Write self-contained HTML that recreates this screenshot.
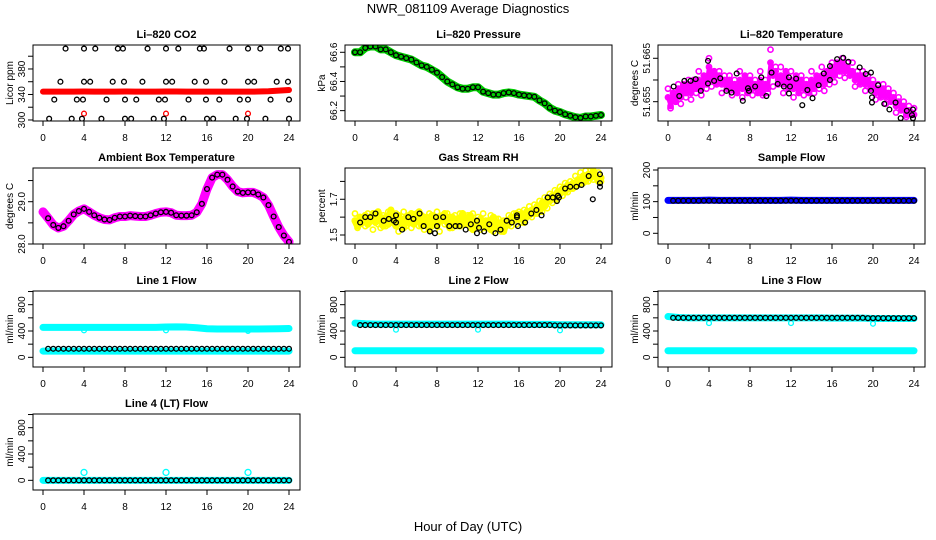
<!DOCTYPE html>
<html><head><meta charset="utf-8"><title>NWR_081109 Average Diagnostics</title>
<style>
html,body{margin:0;padding:0;background:#fff;}
svg{display:block;font-family:"Liberation Sans",Arial,sans-serif;}
</style></head>
<body>
<svg id="chart" width="936" height="540" viewBox="0 0 936 540" xmlns="http://www.w3.org/2000/svg">
<rect x="0" y="0" width="936" height="540" fill="#fff"/>
<text x="468" y="13" text-anchor="middle" font-size="13">NWR_081109  Average Diagnostics</text>
<text x="468" y="531" text-anchor="middle" font-size="13">Hour of Day (UTC)</text>
</svg>
<script>
// ---------- data ----------
const xTicks = [0,4,8,12,16,20,24];
// CO2
const co2RedHours = [0,1,2,3,4,5,6,7,8,9,10,11,12,13,14,15,16,17,18,19,20,21,22,23,24];
const co2Red = [344.5,344.5,344.5,344.5,344.6,344.5,344.5,344.5,344.6,344.5,344.5,344.5,344.6,344.6,344.5,344.5,344.5,344.5,344.4,344.4,344.4,344.6,345,346,347];
const co2RedOutHours = [4,12,20];
const co2RedOut = [310,310,310];
const co2BlackHours = [2.2,4.0,5.1,7.3,7.8,10.2,12.0,13.2,15.3,15.7,18.2,20.0,21.2,23.2,23.9,
 1.7,4.0,4.6,6.8,7.9,9.7,12.0,12.6,14.8,15.9,17.7,20.0,20.6,22.8,23.9,
 1.1,3.3,3.9,6.2,8.0,9.1,11.3,11.9,14.2,15.9,17.2,19.2,20.0,22.2,24.0,
 0.6,2.8,3.8,5.7,8.0,8.6,10.8,11.8,13.7,16.0,16.6,18.8,19.9,21.7,24.0];
const co2Black = [412,412,412,412,412,412,412,412,412,412,412,412,412,412,412,
 360,360,360,360,360,360,360,360,360,360,360,360,360,360,360,
 332,332,332,332,332,332,332,332,332,332,332,332,332,332,332,
 302,302,302,302,302,302,302,302,302,302,302,302,302,302,302];
// half-hour grid series (0..24)
const halfHours = [0,0.5,1,1.5,2,2.5,3,3.5,4,4.5,5,5.5,6,6.5,7,7.5,8,8.5,9,9.5,10,10.5,11,11.5,12,12.5,13,13.5,14,14.5,15,15.5,16,16.5,17,17.5,18,18.5,19,19.5,20,20.5,21,21.5,22,22.5,23,23.5,24];
const pressure = [66.60,66.60,66.63,66.64,66.64,66.62,66.62,66.60,66.58,66.57,66.56,66.55,66.53,66.51,66.50,66.48,66.46,66.43,66.40,66.38,66.36,66.35,66.35,66.36,66.36,66.33,66.32,66.31,66.31,66.32,66.325,66.32,66.31,66.305,66.30,66.295,66.27,66.25,66.22,66.20,66.19,66.175,66.165,66.155,66.15,66.16,66.16,66.165,66.17];
const ambient = [28.76,28.61,28.45,28.38,28.42,28.55,28.70,28.78,28.83,28.76,28.68,28.62,28.58,28.57,28.62,28.65,28.65,28.67,28.66,28.65,28.65,28.68,28.72,28.75,28.76,28.74,28.68,28.67,28.67,28.68,28.75,28.95,29.30,29.57,29.64,29.64,29.52,29.36,29.24,29.21,29.22,29.22,29.17,29.10,28.92,28.65,28.40,28.20,28.05];
// quarter-hour dense series
const quarterHours = [0,0.25,0.5,0.75,1,1.25,1.5,1.75,2,2.25,2.5,2.75,3,3.25,3.5,3.75,4,4.25,4.5,4.75,5,5.25,5.5,5.75,6,6.25,6.5,6.75,7,7.25,7.5,7.75,8,8.25,8.5,8.75,9,9.25,9.5,9.75,10,10.25,10.5,10.75,11,11.25,11.5,11.75,12,12.25,12.5,12.75,13,13.25,13.5,13.75,14,14.25,14.5,14.75,15,15.25,15.5,15.75,16,16.25,16.5,16.75,17,17.25,17.5,17.75,18,18.25,18.5,18.75,19,19.25,19.5,19.75,20,20.25,20.5,20.75,21,21.25,21.5,21.75,22,22.25,22.5,22.75,23,23.25,23.5,23.75,24];
const tempPink = [51.656,51.654,51.657,51.655,51.658,51.656,51.659,51.657,51.659,51.657,51.660,51.658,51.660,51.658,51.661,51.659,51.663,51.660,51.662,51.659,51.661,51.659,51.660,51.658,51.660,51.658,51.659,51.657,51.660,51.658,51.661,51.657,51.660,51.658,51.659,51.657,51.660,51.657,51.659,51.658,51.664,51.661,51.662,51.659,51.661,51.659,51.662,51.658,51.660,51.658,51.661,51.657,51.660,51.658,51.659,51.657,51.660,51.658,51.661,51.659,51.661,51.659,51.662,51.660,51.663,51.661,51.664,51.662,51.664,51.662,51.663,51.661,51.662,51.660,51.661,51.659,51.661,51.659,51.660,51.658,51.659,51.657,51.658,51.656,51.658,51.656,51.657,51.655,51.656,51.654,51.655,51.653,51.654,51.652,51.653,51.652,51.652];
const tempPink2 = [51.658,51.6535,51.657,51.655,51.659,51.6545,51.658,51.656,51.660,51.6555,51.659,51.657,51.662,51.6565,51.660,51.658,51.665,51.6585,51.662,51.660,51.662,51.657,51.661,51.659,51.661,51.6565,51.660,51.658,51.662,51.656,51.660,51.658,51.661,51.6565,51.660,51.658,51.662,51.6565,51.660,51.657,51.667,51.6585,51.663,51.660,51.663,51.657,51.661,51.659,51.662,51.656,51.660,51.658,51.661,51.6565,51.660,51.658,51.662,51.657,51.660,51.658,51.663,51.6575,51.661,51.659,51.664,51.6595,51.663,51.661,51.665,51.6605,51.664,51.662,51.664,51.6585,51.662,51.660,51.662,51.6575,51.661,51.659,51.660,51.6555,51.659,51.657,51.659,51.6545,51.658,51.656,51.657,51.6525,51.656,51.654,51.655,51.6515,51.654,51.6525,51.6535];
const tempBlackHours = [0.55,1.1,1.6,2.2,2.7,3.2,3.9,3.9,4.5,5.1,5.7,6.2,6.7,7.3,7.8,7.9,8.5,9.1,9.6,10.1,10.7,11.3,11.8,11.8,11.9,12.5,13.1,13.6,14.1,14.7,15.2,15.8,15.8,16.5,17.1,17.6,18.7,19.3,19.8,19.8,19.9,19.9,20.5,21.1,21.6,22.2,22.7,23.3,23.8,23.9,23.9];
const tempBlack = [51.6585,51.6563,51.6598,51.6598,51.6602,51.6575,51.6644,51.6592,51.6598,51.6604,51.6575,51.6571,51.6615,51.6552,51.6581,51.6575,51.6585,51.6606,51.6563,51.6617,51.6591,51.6585,51.6606,51.6569,51.6585,51.6603,51.6542,51.6577,51.6558,51.6588,51.6615,51.6600,51.6632,51.6648,51.6651,51.6642,51.6629,51.6614,51.6617,51.6575,51.6560,51.6548,51.6588,51.6545,51.6532,51.6548,51.6512,51.6529,51.6519,51.6532,51.6512];
const rhYellow = [1.58,1.55,1.60,1.57,1.61,1.56,1.58,1.62,1.57,1.63,1.59,1.55,1.60,1.56,1.64,1.58,1.55,1.61,1.58,1.54,1.60,1.57,1.62,1.56,1.59,1.63,1.55,1.60,1.57,1.53,1.61,1.58,1.55,1.60,1.58,1.62,1.57,1.54,1.60,1.56,1.59,1.55,1.62,1.57,1.56,1.61,1.53,1.58,1.55,1.59,1.57,1.54,1.58,1.53,1.60,1.56,1.54,1.57,1.52,1.58,1.56,1.60,1.58,1.62,1.59,1.62,1.57,1.63,1.61,1.64,1.62,1.66,1.63,1.68,1.66,1.70,1.69,1.72,1.70,1.74,1.73,1.76,1.74,1.78,1.76,1.79,1.77,1.81,1.79,1.83,1.80,1.84,1.82,1.86,1.83,1.80,1.82];
const rhYellow2 = [1.62,1.54,1.56,1.60,1.55,1.62,1.60,1.53,1.62,1.56,1.54,1.61,1.55,1.63,1.57,1.60,1.62,1.52,1.56,1.63,1.55,1.61,1.54,1.60,1.62,1.55,1.61,1.53,1.60,1.62,1.55,1.60,1.63,1.52,1.61,1.56,1.62,1.60,1.54,1.61,1.55,1.62,1.56,1.60,1.61,1.54,1.62,1.57,1.60,1.53,1.62,1.58,1.55,1.61,1.52,1.59,1.59,1.52,1.58,1.55,1.61,1.55,1.62,1.56,1.63,1.57,1.64,1.60,1.66,1.60,1.67,1.62,1.69,1.63,1.71,1.65,1.73,1.68,1.75,1.70,1.77,1.72,1.79,1.74,1.80,1.76,1.83,1.78,1.85,1.79,1.86,1.80,1.86,1.81,1.84,1.85,1.80];
const rhBlackHours = [0.5,1,1.5,2,2.8,3.3,3.8,4,4,4.6,5.2,5.7,6.3,6.7,7.3,7.8,7.9,8,8.6,9.2,9.8,10.2,10.8,11.3,11.9,11.9,12.1,12.6,13.1,13.7,14.2,14.8,15.3,15.8,15.8,15.9,16.6,17.2,17.7,18.2,18.8,19.3,19.7,19.8,19.9,20.5,21,21.6,22.1,22.8,23.2,23.9,23.9,23.9];
const rhBlack = [1.57,1.6,1.6,1.62,1.58,1.59,1.58,1.61,1.57,1.53,1.6,1.59,1.62,1.55,1.52,1.51,1.6,1.55,1.6,1.55,1.55,1.55,1.53,1.56,1.51,1.58,1.54,1.52,1.56,1.51,1.53,1.58,1.57,1.6,1.61,1.55,1.57,1.62,1.64,1.61,1.71,1.71,1.69,1.72,1.71,1.76,1.77,1.77,1.78,1.83,1.7,1.84,1.79,1.77];
// hourly flow series
const hours = [0,1,2,3,4,5,6,7,8,9,10,11,12,13,14,15,16,17,18,19,20,21,22,23,24];
const sampleBlue = [104,104,104,104,105,104,104,104,104,104,104,104,105,104,104,104,104,104,104,104,104,104,104,104,104];
const sampleBlack = [103,103,103,103,103,103,103,103,103,103,103,103,103,103,103,103,103,103,103,103,103,103,103,103,103];
const line1Upper = [455,455,455,455,455,455,455,455,455,455,455,455,460,462,460,450,435,430,430,430,430,430,432,435,438];
const line1Lower = [95,95,95,95,95,95,95,95,95,95,95,95,95,95,95,95,95,95,95,95,95,95,95,95,95];
const line1Black = [130,130,130,130,130,130,130,130,130,130,130,130,130,130,130,130,130,130,130,130,130,130,130,130,130];
const line2Upper = [520,510,505,505,505,505,505,505,505,505,505,505,505,505,505,505,500,500,500,500,495,495,495,495,495];
const line2Lower = [100,100,100,100,100,100,100,100,100,100,100,100,100,100,100,100,100,100,100,100,100,100,100,100,100];
const line2Black = [490,490,490,490,490,490,490,490,490,490,490,490,490,490,490,490,490,490,490,490,485,485,485,485,485];
const line3Upper = [620,605,600,600,600,600,600,600,600,600,600,600,600,600,600,600,595,595,595,595,590,590,590,590,590];
const line3Lower = [100,100,100,100,100,100,100,100,100,100,100,100,100,100,100,100,100,100,100,100,100,100,100,100,100];
const line3Black = [600,600,600,600,600,600,600,600,600,600,600,600,600,600,600,600,600,600,600,600,595,595,595,595,595];
const line4Cyan = [0,0,0,0,0,0,0,0,0,0,0,0,0,0,0,0,0,0,0,0,0,0,0,0,0];
const line4Black = [0,0,0,0,0,0,0,0,0,0,0,0,0,0,0,0,0,0,0,0,0,0,0,0,0];
const dipHours = [4,12,20];
const line1Dips = [410,410,400];
const line2Dips = [420,420,410];
const line3Dips = [520,520,510];
const line4Dips = [120,120,120];

// ---------- drawing ----------
const NS = 'http://www.w3.org/2000/svg';
const svg = document.getElementById('chart');
const COLS = [33,345,658], ROWS = [45,168,291,414], W = 267, H = 76;

function el(tag, parent, name) {
  const e = document.createElementNS(NS, tag);
  
  
  parent.appendChild(e);
  return e;
}
function makePanel(col, row, slug, title, ylab, ymin, ymax, yticks, ylabels) {
  const g = document.createElementNS(NS, 'g');
  
  
  svg.appendChild(g);
  const L = COLS[col], T = ROWS[row];
  const P = {g, L, T,
    x: h => L + 10 + h * 10.25,
    y: v => T + H - (v - ymin) / (ymax - ymin) * H};
  const t = el('text', g, slug + '-title');
  t.setAttribute('x', L + W / 2); t.setAttribute('y', T - 7);
  t.setAttribute('text-anchor', 'middle'); t.setAttribute('font-size', '11'); t.setAttribute('font-weight', 'bold');
  t.textContent = title;
  const xa = el('line', g, slug + '-x-axis-line');
  xa.setAttribute('x1', P.x(0)); xa.setAttribute('x2', P.x(24));
  xa.setAttribute('y1', T + H); xa.setAttribute('y2', T + H); xa.setAttribute('stroke', '#000');
  xTicks.forEach(v => {
    const tk = el('line', g, slug + '-x-tick');
    tk.setAttribute('x1', P.x(v)); tk.setAttribute('x2', P.x(v));
    tk.setAttribute('y1', T + H); tk.setAttribute('y2', T + H + 5); tk.setAttribute('stroke', '#000');
    const tl = el('text', g, slug + '-x-tick-label');
    tl.setAttribute('x', P.x(v)); tl.setAttribute('y', T + H + 20);
    tl.setAttribute('text-anchor', 'middle'); tl.setAttribute('font-size', '10');
    tl.textContent = v;
  });
  const ya = el('line', g, slug + '-y-axis-line');
  ya.setAttribute('x1', L); ya.setAttribute('x2', L);
  ya.setAttribute('y1', P.y(yticks[0])); ya.setAttribute('y2', P.y(yticks[yticks.length - 1])); ya.setAttribute('stroke', '#000');
  yticks.forEach(v => {
    const tk = el('line', g, slug + '-y-tick');
    tk.setAttribute('x1', L - 5); tk.setAttribute('x2', L);
    tk.setAttribute('y1', P.y(v)); tk.setAttribute('y2', P.y(v)); tk.setAttribute('stroke', '#000');
  });
  ylabels.forEach(s => {
    const tl = el('text', g, slug + '-y-tick-label');
    const yy = P.y(parseFloat(s));
    tl.setAttribute('x', L - 8); tl.setAttribute('y', yy);
    tl.setAttribute('text-anchor', 'middle'); tl.setAttribute('font-size', '10');
    tl.setAttribute('transform', 'rotate(-90 ' + (L - 8) + ' ' + yy + ')');
    tl.textContent = s;
  });
  const yt = el('text', g, slug + '-y-axis-title');
  const cy = T + H / 2;
  yt.setAttribute('x', L - 20); yt.setAttribute('y', cy);
  yt.setAttribute('text-anchor', 'middle'); yt.setAttribute('font-size', '10');
  yt.setAttribute('transform', 'rotate(-90 ' + (L - 20) + ' ' + cy + ')');
  yt.textContent = ylab;
  P.clip = 'clip-' + slug;
  const cp = el('clipPath', g, slug + '-clip');
  cp.setAttribute('id', P.clip);
  const cr = el('rect', cp, slug + '-clip-rect');
  cr.setAttribute('x', L); cr.setAttribute('y', T); cr.setAttribute('width', W); cr.setAttribute('height', H);
  P.plot = el('g', g, slug + '-plot-area');
  P.plot.setAttribute('clip-path', 'url(#' + P.clip + ')');
  P.finish = () => {
    const b = el('rect', g, slug + '-plot-frame');
    b.setAttribute('x', L); b.setAttribute('y', T); b.setAttribute('width', W); b.setAttribute('height', H);
    b.setAttribute('fill', 'none'); b.setAttribute('stroke', '#000');
  };
  return P;
}
function band(P, xs, ys, color, width, name) {
  const p = el('polyline', P.plot, name);
  p.setAttribute('points', xs.map((h, i) => P.x(h) + ',' + P.y(ys[i])).join(' '));
  p.setAttribute('fill', 'none'); p.setAttribute('stroke', color);
  p.setAttribute('stroke-width', width); p.setAttribute('stroke-linejoin', 'round'); p.setAttribute('stroke-linecap', 'round');
}
function points(P, xs, ys, color, name, r, sw) {
  xs.forEach((h, i) => {
    const c = el('circle', P.plot, name);
    c.setAttribute('cx', P.x(h)); c.setAttribute('cy', P.y(ys[i]));
    c.setAttribute('r', r || 2.4);
    c.setAttribute('fill', 'none'); c.setAttribute('stroke', color); c.setAttribute('stroke-width', sw || '1.3');
  });
}
function chain(P, xs, ys, name) {
  const hx = [], hy = [];
  for (let i = 0; i < xs.length - 1; i++) {
    hx.push(xs[i] + 0.5); hy.push(ys[i + 1]);
    hx.push(xs[i + 1]); hy.push(ys[i + 1]);
  }
  points(P, hx, hy, '#000', name);
}

// Panel 1: CO2
let P = makePanel(0, 0, 'co2', 'Li–820 CO2', 'Licor ppm', 298.4, 417.6, [300,320,340,360,380,400], ['300','340','380']);
band(P, co2RedHours, co2Red, '#ff0000', 6, 'co2-red-series');
points(P, co2RedOutHours, co2RedOut, '#ff0000', 'co2-red-outlier');
points(P, co2BlackHours, co2Black, '#000', 'co2-black-point');
P.finish();

// Panel 2: Pressure
P = makePanel(1, 0, 'pressure', 'Li–820 Pressure', 'kPa', 66.129, 66.65, [66.2,66.3,66.4,66.5,66.6], ['66.2','66.4','66.6']);
band(P, halfHours, pressure, '#00cc00', 8, 'pressure-green-series');
points(P, halfHours, pressure, '#000', 'pressure-black-point');
P.finish();

// Panel 3: Temperature
P = makePanel(2, 0, 'temperature', 'Li–820 Temperature', 'degrees C', 51.65055, 51.66806, [51.655,51.66,51.665], ['51.655','51.665']);
band(P, quarterHours, tempPink, '#ff00ff', 4, 'temperature-pink-band');
points(P, quarterHours, tempPink, '#ff00ff', 'temperature-pink-point', 2.6, 1.6);
points(P, quarterHours, tempPink2, '#ff00ff', 'temperature-pink-point', 2.6, 1.6);
points(P, tempBlackHours, tempBlack, '#000', 'temperature-black-point');
P.finish();

// Panel 4: Ambient
P = makePanel(0, 1, 'ambient', 'Ambient Box Temperature', 'degrees C', 28.0, 29.797, [28.0,28.5,29.0,29.5], ['28.0','29.0']);
band(P, halfHours, ambient, '#ff00ff', 9, 'ambient-magenta-series');
points(P, halfHours.slice(1), ambient.slice(1), '#000', 'ambient-black-point');
P.finish();

// Panel 5: RH
P = makePanel(1, 1, 'rh', 'Gas Stream RH', 'percent', 1.4496, 1.875, [1.5,1.6,1.7,1.8], ['1.5','1.7']);
band(P, quarterHours, rhYellow, '#ffff00', 7, 'rh-yellow-band');
points(P, quarterHours, rhYellow, '#ffff00', 'rh-yellow-point', 2.6, 1.6);
points(P, quarterHours, rhYellow2, '#ffff00', 'rh-yellow-point', 2.6, 1.6);
points(P, rhBlackHours, rhBlack, '#000', 'rh-black-point');
P.finish();

// Panel 6: Sample flow
P = makePanel(2, 1, 'sample-flow', 'Sample Flow', 'ml/min', -33.8, 206.3, [0,50,100,150,200], ['0','100','200']);
band(P, hours, sampleBlue, '#0000ff', 7, 'sample-flow-blue-series');
chain(P, hours, sampleBlack, 'sample-flow-black-point');
P.finish();

// Panels 7-10: line flows
const fmin = -147, fmax = 1008, fticks = [0,200,400,600,800,1000], flabs = ['0','400','800'];
P = makePanel(0, 2, 'line1-flow', 'Line 1 Flow', 'ml/min', fmin, fmax, fticks, flabs);
band(P, hours, line1Upper, '#00ffff', 7, 'line1-cyan-upper');
band(P, hours, line1Lower, '#00ffff', 7, 'line1-cyan-lower');
points(P, dipHours, line1Dips, '#00ffff', 'line1-cyan-dip');
chain(P, hours, line1Black, 'line1-black-point');
P.finish();

P = makePanel(1, 2, 'line2-flow', 'Line 2 Flow', 'ml/min', fmin, fmax, fticks, flabs);
band(P, hours, line2Upper, '#00ffff', 7, 'line2-cyan-upper');
band(P, hours, line2Lower, '#00ffff', 7, 'line2-cyan-lower');
points(P, dipHours, line2Dips, '#00ffff', 'line2-cyan-dip');
chain(P, hours, line2Black, 'line2-black-point');
P.finish();

P = makePanel(2, 2, 'line3-flow', 'Line 3 Flow', 'ml/min', fmin, fmax, fticks, flabs);
band(P, hours, line3Upper, '#00ffff', 7, 'line3-cyan-upper');
band(P, hours, line3Lower, '#00ffff', 7, 'line3-cyan-lower');
points(P, dipHours, line3Dips, '#00ffff', 'line3-cyan-dip');
chain(P, hours, line3Black, 'line3-black-point');
P.finish();

P = makePanel(0, 3, 'line4-flow', 'Line 4 (LT) Flow', 'ml/min', fmin, fmax, fticks, flabs);
band(P, hours, line4Cyan, '#00ffff', 7, 'line4-cyan-series');
points(P, dipHours, line4Dips, '#00ffff', 'line4-cyan-outlier', 3);
chain(P, hours, line4Black, 'line4-black-point');
P.finish();
</script>
</body></html>
